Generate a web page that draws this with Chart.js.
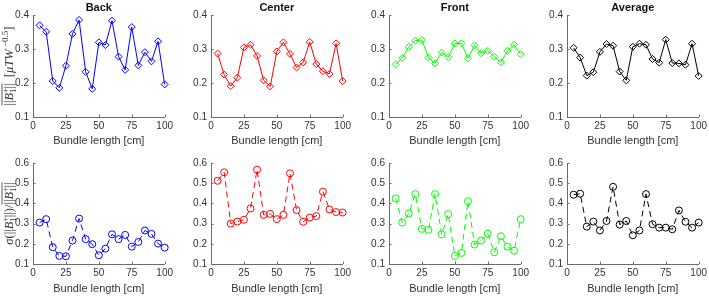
<!DOCTYPE html>
<html>
<head>
<meta charset="utf-8">
<script src="https://cdn.jsdelivr.net/npm/chart.js@4.4.0/dist/chart.umd.min.js"></script>
<style>
  html, body { margin: 0; padding: 0; background: #fff; }
  #wrap { position: relative; width: 709px; height: 296px; overflow: hidden; }
  #wrap canvas { position: absolute; }
</style>
</head>
<body>
<div id="wrap"></div>
<script>
// bundle lengths (cm)
const lengths = [5, 10, 15, 20, 25, 30, 35, 40, 45, 50, 55, 60, 65, 70, 75, 80, 85, 90, 95, 100];

const panelTitles = ['Back', 'Center', 'Front', 'Average'];
const panelColors = ['#0000ff', '#ff0000', '#00ff00', '#000000'];
const xTitle = 'Bundle length [cm]';
const xTicks = [0, 25, 50, 75, 100];
const yTicksTop = [0.1, 0.2, 0.3, 0.4];
const yTicksBottom = [0.1, 0.2, 0.3, 0.4, 0.5, 0.6];

// mean |B1+| per position
const backMean    = [0.370, 0.351, 0.206, 0.186, 0.251, 0.345, 0.386, 0.233, 0.183, 0.320, 0.312, 0.384, 0.278, 0.239, 0.365, 0.252, 0.291, 0.264, 0.323, 0.196];
const centerMean  = [0.287, 0.225, 0.191, 0.216, 0.305, 0.313, 0.280, 0.208, 0.190, 0.293, 0.320, 0.286, 0.246, 0.261, 0.321, 0.256, 0.235, 0.227, 0.317, 0.206];
const frontMean   = [0.255, 0.274, 0.307, 0.325, 0.327, 0.275, 0.258, 0.290, 0.277, 0.317, 0.317, 0.273, 0.311, 0.288, 0.295, 0.278, 0.261, 0.295, 0.313, 0.285];
const averageMean = [0.304, 0.275, 0.222, 0.232, 0.292, 0.315, 0.310, 0.234, 0.208, 0.307, 0.316, 0.313, 0.271, 0.260, 0.328, 0.259, 0.258, 0.254, 0.316, 0.221];

// coefficient of variation
const backCv    = [0.305, 0.322, 0.183, 0.140, 0.138, 0.216, 0.325, 0.223, 0.198, 0.143, 0.176, 0.247, 0.223, 0.244, 0.186, 0.209, 0.266, 0.249, 0.201, 0.181];
const centerCv  = [0.512, 0.554, 0.300, 0.310, 0.319, 0.375, 0.567, 0.343, 0.348, 0.322, 0.343, 0.549, 0.367, 0.309, 0.330, 0.337, 0.458, 0.370, 0.357, 0.355];
const frontCv   = [0.425, 0.305, 0.350, 0.446, 0.274, 0.269, 0.446, 0.247, 0.347, 0.140, 0.155, 0.411, 0.196, 0.216, 0.251, 0.158, 0.237, 0.186, 0.166, 0.322];
const averageCv = [0.443, 0.448, 0.285, 0.310, 0.266, 0.313, 0.482, 0.295, 0.313, 0.242, 0.266, 0.446, 0.297, 0.280, 0.280, 0.272, 0.365, 0.309, 0.280, 0.305];

const meanSeries = [backMean, centerMean, frontMean, averageMean];
const cvSeries = [backCv, centerCv, frontCv, averageCv];

const FONT = '"Liberation Sans", Arial, Helvetica, sans-serif';
const TEXT = '#333333';
const AXIS = '#6b6b6b';

// little inward ticks like matlab
const innerTicks = {
    id: 'innerTicks',
    afterDraw(chart) {
        const ctx = chart.ctx;
        const a = chart.chartArea;
        ctx.save();
        ctx.strokeStyle = AXIS;
        ctx.lineWidth = 1;
        ctx.beginPath();
        chart.scales.x.ticks.forEach(t => {
            const px = Math.round(chart.scales.x.getPixelForValue(t.value)) + 0.5;
            ctx.moveTo(px, a.bottom);
            ctx.lineTo(px, a.bottom - 2.5);
        });
        chart.scales.y.ticks.forEach(t => {
            const py = Math.round(chart.scales.y.getPixelForValue(t.value)) + 0.5;
            ctx.moveTo(a.left, py);
            ctx.lineTo(a.left + 2.5, py);
        });
        ctx.stroke();
        ctx.restore();
    }
};

// draw a rotated latex-ish label
function drawMath(ctx, parts, cx, cy) {
    ctx.save();
    ctx.translate(cx, cy);
    ctx.rotate(-Math.PI / 2);
    ctx.fillStyle = TEXT;
    ctx.textBaseline = 'alphabetic';
    const fontOf = p => (p.i ? 'italic ' : '') + p.s + 'px "Liberation Serif", "DejaVu Serif", serif';
    let total = 0;
    parts.forEach(p => {
        ctx.font = fontOf(p);
        p.w = ctx.measureText(p.t).width;
        if (!p.keep) total += p.w;
    });
    let x = -total / 2;
    let olStart = null;
    parts.forEach(p => {
        ctx.font = fontOf(p);
        if (p.ol === 'start') olStart = x;
        ctx.fillText(p.t, x, p.dy || 0);
        if (!p.keep) x += p.w;
        if (p.ol === 'end') {
            ctx.strokeStyle = TEXT;
            ctx.lineWidth = 0.8;
            ctx.beginPath();
            ctx.moveTo(olStart, -11);
            ctx.lineTo(x, -11);
            ctx.stroke();
        }
    });
    ctx.restore();
}

const B = 12.5, S = 9;
const topLabel = [
    { t: '||', s: B, ol: 'start' }, { t: 'B', s: B, i: true },
    { t: '+', s: S, dy: -5, keep: true }, { t: '1', s: S, dy: 2.5 },
    { t: '||', s: B, ol: 'end' }, { t: '  [', s: B },
    { t: 'μTW', s: B, i: true }, { t: ' −0.5', s: S, dy: -5 }, { t: ']', s: B }
];
const bottomLabel = [
    { t: 'σ', s: B, i: true }, { t: '(||', s: B }, { t: 'B', s: B, i: true },
    { t: '+', s: S, dy: -5, keep: true }, { t: '1', s: S, dy: 2.5 },
    { t: '||)/', s: B },
    { t: '||', s: B, ol: 'start' }, { t: 'B', s: B, i: true },
    { t: '+', s: S, dy: -5, keep: true }, { t: '1', s: S, dy: 2.5 },
    { t: '||', s: B, ol: 'end' }
];

function makeChart(col, row) {
    const wrap = document.getElementById('wrap');
    const canvas = document.createElement('canvas');
    canvas.width = 176;
    canvas.height = 148;
    canvas.style.left = (col * 178) + 'px';
    canvas.style.top = (row * 148) + 'px';
    canvas.style.width = '176px';
    canvas.style.height = '148px';
    wrap.appendChild(canvas);

    const values = row === 0 ? meanSeries[col] : cvSeries[col];
    const color = panelColors[col];
    const yTicks = row === 0 ? yTicksTop : yTicksBottom;

    const plugins = [innerTicks];
    if (col === 0) {
        plugins.push({
            id: 'ylabel',
            afterDraw(chart) {
                const a = chart.chartArea;
                drawMath(chart.ctx, row === 0 ? topLabel : bottomLabel, 13, (a.top + a.bottom) / 2);
            }
        });
    }

    new Chart(canvas, {
        type: 'line',
        data: {
            datasets: [{
                data: lengths.map((x, i) => ({ x: x, y: values[i] })),
                borderColor: color,
                borderWidth: 1,
                borderDash: row === 0 ? [] : [6, 4],
                pointStyle: row === 0 ? 'rectRot' : 'circle',
                pointRadius: 3.5,
                pointBorderWidth: 1,
                pointBorderColor: color,
                pointBackgroundColor: 'rgba(0,0,0,0)',
                tension: 0,
                fill: false,
                clip: false
            }]
        },
        options: {
            responsive: false,
            animation: false,
            devicePixelRatio: 1,
            layout: { padding: { top: row === 0 ? 0 : 15, right: 10, left: 0, bottom: 0 } },
            plugins: {
                legend: { display: false },
                tooltip: { enabled: false },
                title: {
                    display: row === 0,
                    text: panelTitles[col],
                    color: '#111',
                    fullSize: false,
                    font: { family: FONT, size: 11, weight: 'bold' },
                    padding: { top: 1, bottom: 1 }
                }
            },
            scales: {
                x: {
                    type: 'linear',
                    min: 0,
                    max: 100,
                    afterBuildTicks: s => { s.ticks = xTicks.map(v => ({ value: v })); },
                    afterFit: s => { s.height = row === 0 ? 31 : 32; },
                    grid: { display: false, drawTicks: false },
                    border: { display: true, color: AXIS, width: 1 },
                    ticks: { color: TEXT, font: { family: FONT, size: 10 }, padding: 3, maxRotation: 0 },
                    title: { display: true, text: xTitle, color: TEXT, font: { family: FONT, size: 11 }, padding: 0 }
                },
                y: {
                    type: 'linear',
                    min: yTicks[0],
                    max: yTicks[yTicks.length - 1],
                    afterBuildTicks: s => { s.ticks = yTicks.map(v => ({ value: v })); },
                    afterFit: s => { s.width = 33; },
                    grid: { display: false, drawTicks: false },
                    border: { display: true, color: AXIS, width: 1 },
                    ticks: { color: TEXT, font: { family: FONT, size: 10 }, padding: 4, callback: v => v.toFixed(1) }
                }
            }
        },
        plugins: plugins
    });
}

for (let row = 0; row < 2; row++) {
    for (let col = 0; col < 4; col++) makeChart(col, row);
}
</script>
</body>
</html>
